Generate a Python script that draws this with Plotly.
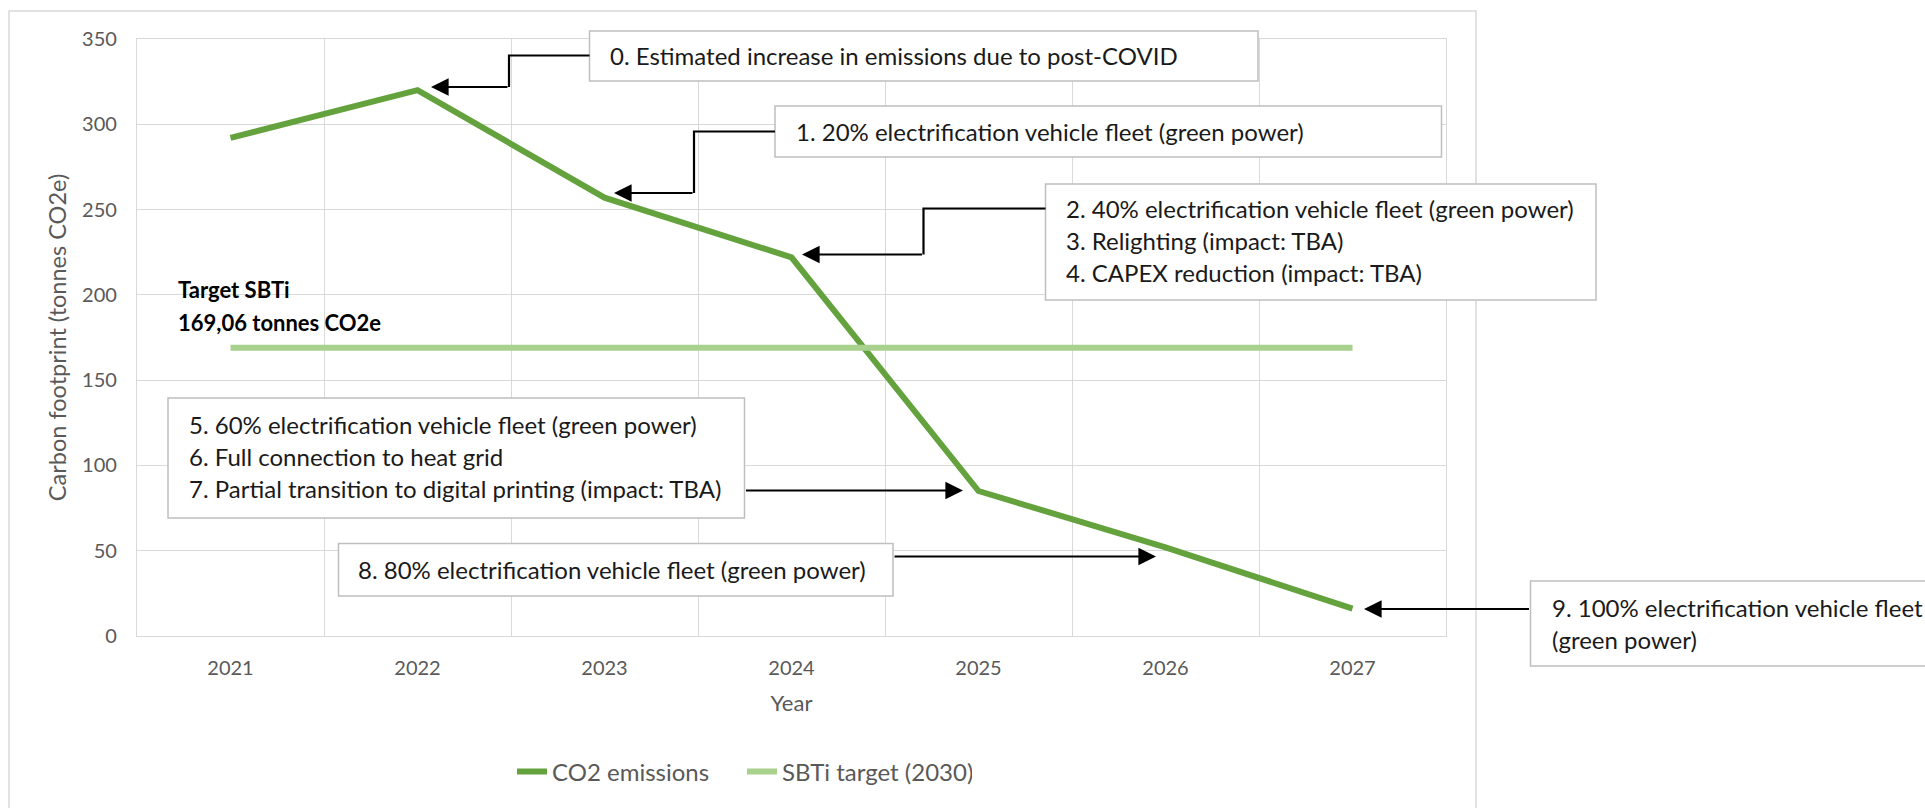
import plotly.graph_objects as go

years = ["2021", "2022", "2023", "2024", "2025", "2026", "2027"]
co2_emissions = [292, 320, 257, 222, 85, 52, 16]
sbti_target = [169.06, 169.06, 169.06, 169.06, 169.06, 169.06, 169.06]
y_ticks = [0, 50, 100, 150, 200, 250, 300, 350]

FONT = "Lato, 'Open Sans', sans-serif"
GRID = "#D9D9D9"
TXT = "#595959"

W, H = 1925, 808
L, R, T, B = 137, 1446, 39, 636


def px(x):
    return (x - L) / (R - L)


def py(y):
    return (B - y) / (B - T)


fig = go.Figure()
fig.add_trace(go.Scatter(x=years, y=co2_emissions, mode="lines", name="CO2 emissions",
                         line=dict(color="#64A23E", width=6)))
fig.add_trace(go.Scatter(x=years, y=sbti_target, mode="lines", name="SBTi target (2030)",
                         line=dict(color="#A9D18E", width=6)))

shapes = []
# outer chart border
shapes.append(dict(type="rect", xref="paper", yref="paper", x0=px(9), x1=px(1476), y0=py(830), y1=py(11),
                   line=dict(color=GRID, width=1.5), fillcolor="rgba(0,0,0,0)", layer="below"))

# text boxes (x0, y0, x1, y1) in pixels
boxes = [
    (589.5, 31, 1258, 81),
    (775, 106, 1441.5, 157),
    (1045.5, 184, 1596, 300),
    (168, 398, 744.5, 518),
    (338.5, 543.5, 893, 596),
    (1530.5, 581, 1940, 666),
]
for x0, y0, x1, y1 in boxes:
    shapes.append(dict(type="rect", xref="paper", yref="paper", x0=px(x0), x1=px(x1), y0=py(y1), y1=py(y0),
                       line=dict(color="#BFBFBF", width=1.5), fillcolor="white", layer="above"))

# elbow connectors (without last segment, which is an arrow annotation)
elbows = [
    [(589.5, 55.5), (509, 55.5), (509, 87)],
    [(775, 131.5), (694, 131.5), (694, 193)],
    [(1045.5, 208.5), (923.5, 208.5), (923.5, 254.5)],
]
for pts in elbows:
    path = "M " + " L ".join(f"{px(a)},{py(b)}" for a, b in pts)
    shapes.append(dict(type="path", xref="paper", yref="paper", path=path,
                       line=dict(color="black", width=2.2), layer="above"))

annotations = []
# arrows: (tail_x, tail_y, tip_x, tip_y)
arrows = [
    (509, 87, 431, 87),
    (694, 193, 614, 193),
    (923.5, 254.5, 802, 254.5),
    (744.5, 490.5, 963, 490.5),
    (893, 556.5, 1156, 556.5),
    (1530.5, 609, 1364, 609),
]
for tx, ty, hx, hy in arrows:
    annotations.append(dict(xref="paper", yref="paper", x=px(hx), y=py(hy), ax=tx - hx, ay=ty - hy,
                            axref="pixel", ayref="pixel", text="", showarrow=True,
                            arrowhead=2, arrowsize=1.6, arrowwidth=2.2, arrowcolor="black", standoff=0))

# text lines: (x, y_center, text)
lines = [
    (608, 55, "0. Estimated increase in emissions due to post-COVID"),
    (794, 131.5, "1. 20% electrification vehicle fleet (green power)"),
    (1064, 209, "2. 40% electrification vehicle fleet (green power)"),
    (1064, 240.5, "3. Relighting (impact: TBA)"),
    (1064, 272, "4. CAPEX reduction (impact: TBA)"),
    (186.5, 424.5, "5. 60% electrification vehicle fleet (green power)"),
    (186.5, 456.5, "6. Full connection to heat grid"),
    (186.5, 488, "7. Partial transition to digital printing (impact: TBA)"),
    (356, 569, "8. 80% electrification vehicle fleet (green power)"),
    (1550, 607, "9. 100% electrification vehicle fleet"),
    (1550, 639.5, "(green power)"),
]
for x, y, t in lines:
    annotations.append(dict(xref="paper", yref="paper", x=px(x), y=py(y), xanchor="left", yanchor="middle",
                            text=t, showarrow=False, font=dict(family=FONT, size=24, color="#1a1a1a")))

for x, y, t in [(176, 289.5, "Target SBTi"), (176, 322.5, "169,06 tonnes CO2e")]:
    annotations.append(dict(xref="paper", yref="paper", x=px(x), y=py(y), xanchor="left", yanchor="middle",
                            text=f"<b>{t}</b>", showarrow=False, font=dict(family=FONT, size=22, color="black")))

fig.update_layout(
    width=W, height=H,
    margin=dict(l=L, r=W - R, t=T, b=H - B, pad=0),
    paper_bgcolor="white", plot_bgcolor="white",
    font=dict(family=FONT, color=TXT),
    shapes=shapes, annotations=annotations,
    showlegend=True,
    legend=dict(orientation="h", x=px(512), xanchor="left", y=py(772), yanchor="middle",
                font=dict(family=FONT, size=24, color=TXT), entrywidth=185, entrywidthmode="pixels",
                tracegroupgap=0, bgcolor="rgba(0,0,0,0)", itemclick=False),
)
fig.update_xaxes(type="category", range=[-0.5, 6.5], tickson="boundaries", showgrid=True, gridcolor=GRID,
                 gridwidth=1.3, showline=True, linecolor=GRID, linewidth=1.3, mirror=True, ticks="",
                 tickfont=dict(family=FONT, size=20, color=TXT), ticklabelstandoff=14,
                 title=dict(text="Year", font=dict(family=FONT, size=22, color=TXT), standoff=17),
                 zeroline=False)
fig.update_yaxes(range=[0, 350], tickvals=y_ticks, showgrid=True, gridcolor=GRID, gridwidth=1.3,
                 showline=True, linecolor=GRID, linewidth=1.3, mirror=True, ticks="",
                 tickfont=dict(family=FONT, size=20, color=TXT), ticklabelstandoff=15,
                 title=dict(text="Carbon footprint (tonnes CO2e)", font=dict(family=FONT, size=23.5, color=TXT),
                            standoff=8),
                 zeroline=False)

fig.write_html("out.html", post_script="document.body.style.margin='0px';",
               config={"displayModeBar": False})
